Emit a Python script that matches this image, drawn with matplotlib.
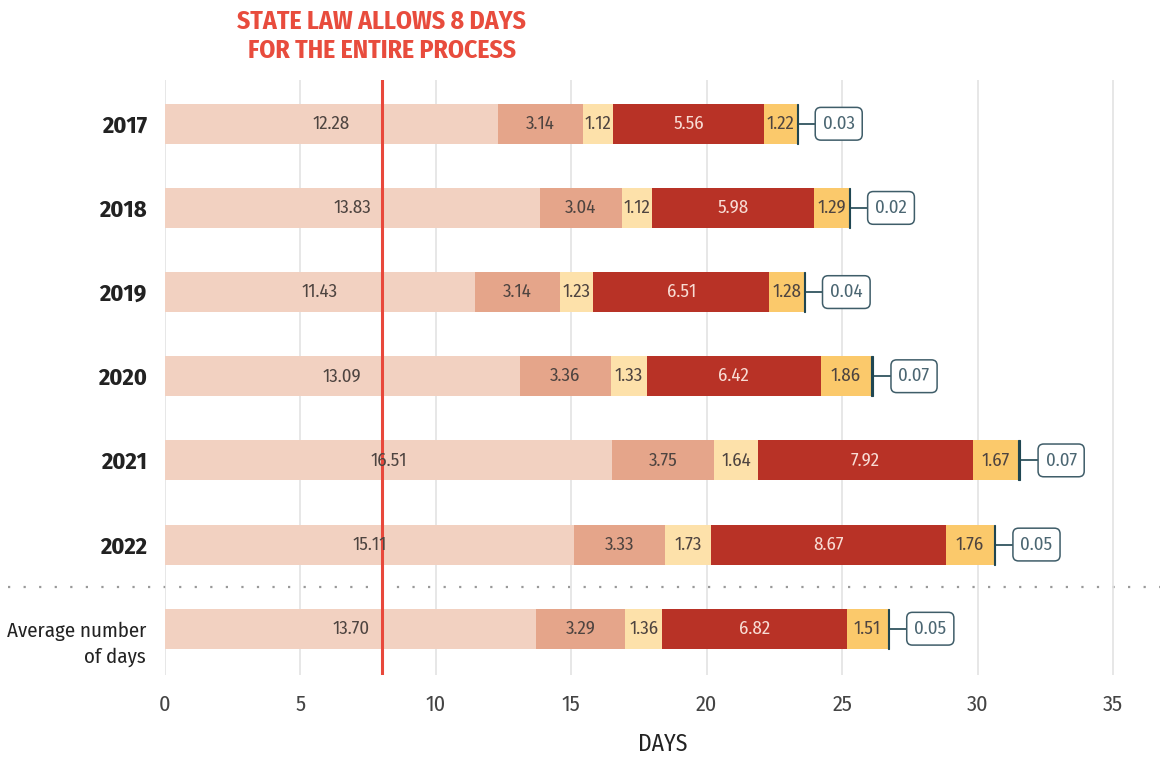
import numpy as np
import matplotlib
matplotlib.use("Agg")
import matplotlib.pyplot as plt

plt.rcParams['font.family'] = ['Fira Sans Condensed', 'Roboto Condensed', 'PT Sans Narrow',
                               'Liberation Sans', 'DejaVu Sans']

# --- data ---
rows = ['2017', '2018', '2019', '2020', '2021', '2022', 'Average number\nof days']
seg1 = [12.28, 13.83, 11.43, 13.09, 16.51, 15.11, 13.70]
seg2 = [3.14, 3.04, 3.14, 3.36, 3.75, 3.33, 3.29]
seg3 = [1.12, 1.12, 1.23, 1.33, 1.64, 1.73, 1.36]
seg4 = [5.56, 5.98, 6.51, 6.42, 7.92, 8.67, 6.82]
seg5 = [1.22, 1.29, 1.28, 1.86, 1.67, 1.76, 1.51]
seg6 = [0.03, 0.02, 0.04, 0.07, 0.07, 0.05, 0.05]
law_days = 8
xticks = [0, 5, 10, 15, 20, 25, 30, 35]

segments = [seg1, seg2, seg3, seg4, seg5]
colors = ['#f2d1c1', '#e5a58a', '#fde1aa', '#b83226', '#fbc96b']
text_colors = ['#4e4440', '#4e4440', '#4e4440', '#f8dcd4', '#4e4440']
dark = '#1f4652'

fig = plt.figure(figsize=(11.6, 7.62), dpi=100)
ax = fig.add_axes([165 / 1160, 1 - 675 / 762, 1 - 165 / 1160, (675 - 80) / 762])

y = np.arange(len(rows))
left = np.zeros(len(rows))
for vals, c, tc in zip(segments, colors, text_colors):
    vals = np.array(vals)
    ax.barh(y, vals, left=left, height=0.475, color=c, zorder=2)
    for yi, l, v in zip(y, left, vals):
        ax.text(l + v / 2, yi, f'{v:.2f}', ha='center', va='center',
                fontsize=13.5, color=tc, zorder=4)
    left += vals

# thin final segment + callout box
s6 = np.array(seg6)
ax.barh(y, s6, left=left, height=0.475, color=dark, edgecolor=dark,
        linewidth=0.8, zorder=3)
ends = left + s6
for yi, e, v in zip(y, ends, s6):
    ax.plot([e, e + 0.68], [yi, yi], color=dark, lw=1.2, zorder=3)
    ax.text(e + 1.52, yi, f'{v:.2f}', ha='center', va='center', fontsize=13.5,
            color='#4b6672', zorder=4,
            bbox=dict(boxstyle='round,pad=0.4,rounding_size=0.3',
                      fc='white', ec='#3f5d69', lw=1.1))

# state law line
ax.axvline(law_days, color='#e8483b', lw=2.2, zorder=3)
ax.text(law_days, 1.028, 'STATE LAW ALLOWS 8 DAYS\nFOR THE ENTIRE PROCESS',
        transform=ax.get_xaxis_transform(), ha='center', va='bottom',
        fontsize=18.5, fontweight='bold', color='#e84c3d', linespacing=1.2)

# separator between years and average
ax.plot([-165 / 27.09 + 0.3, 37], [5.5, 5.5], ls=(0, (1, 6)), color='#999999',
        lw=1.6, clip_on=False, zorder=1)

ax.set_xlim(0, (1160 - 165) / 27.09)
ax.set_ylim(6.55, -0.52)
ax.set_xticks(xticks)
ax.set_xticklabels([str(t) for t in xticks], fontsize=16, color='#444444')

# year labels as ticks, the average label placed by hand (first line on the bar)
ax.set_yticks(y[:-1])
ax.set_yticklabels(rows[:-1], fontsize=17.5, fontweight='bold', color='#222222')
ax.annotate(rows[-1], xy=(0, y[-1] + 0.185), xycoords=('axes fraction', 'data'),
            xytext=(-13.5, 0), textcoords='offset points', ha='right', va='center',
            fontsize=15, color='#222222', linespacing=1.45)

ax.tick_params(axis='x', length=0, pad=14)
ax.tick_params(axis='y', length=0, pad=13)
ax.grid(axis='x', color='#e3e3e3', lw=1.2, zorder=0)
for s in ax.spines.values():
    s.set_visible(False)
ax.set_xlabel('DAYS', fontsize=17, color='#222222', labelpad=12)

fig.savefig('out.png', dpi=100)
